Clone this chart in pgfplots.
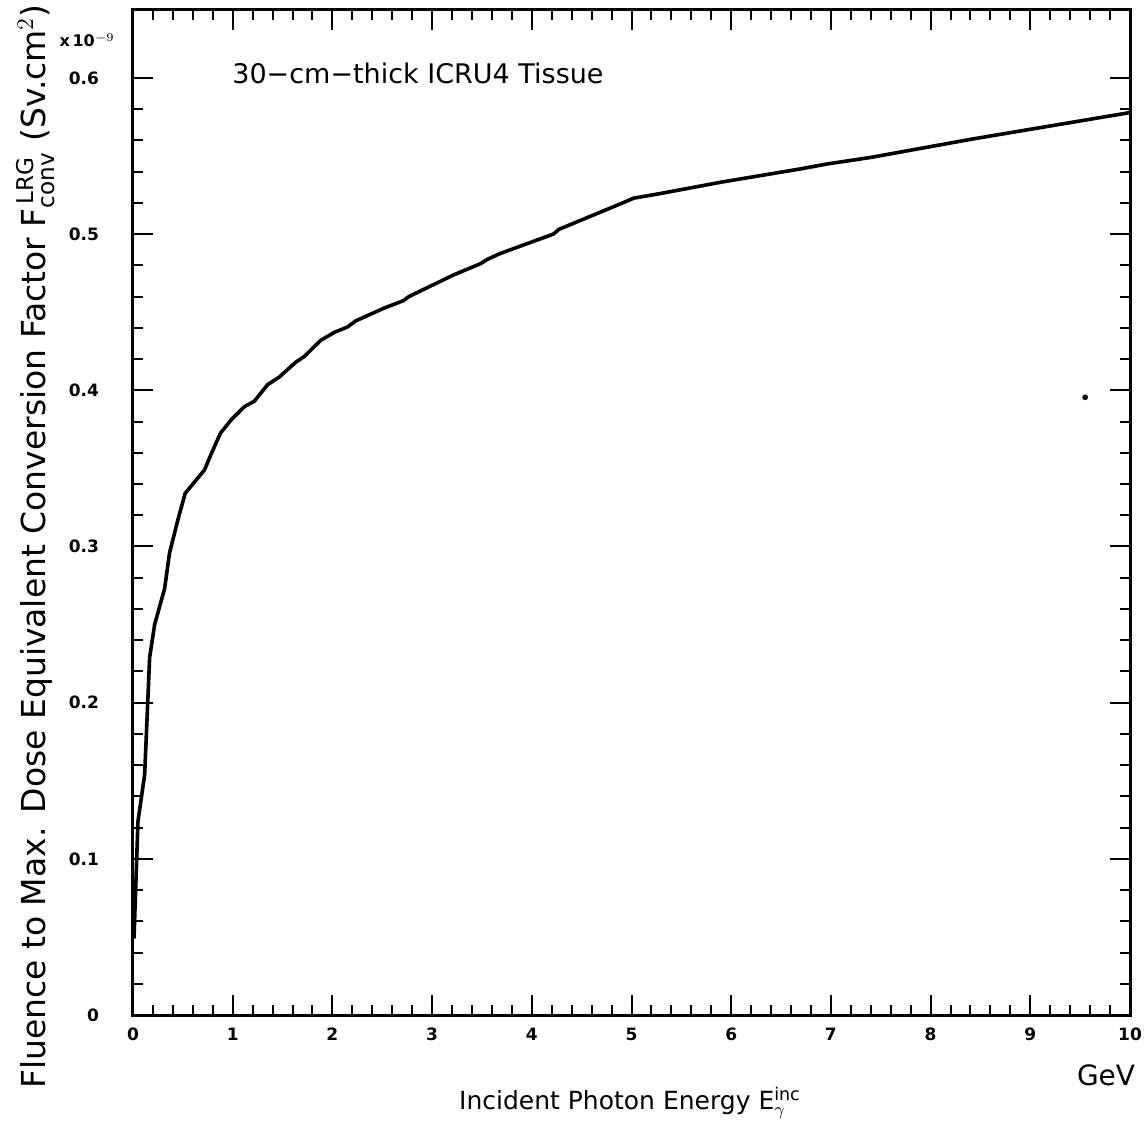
\documentclass[border=0pt]{standalone}
\usepackage{fontspec}
\usepackage{amsmath}
\setmainfont{DejaVu Sans}
\usepackage{pgfplots}
\pgfplotsset{compat=1.18}
\begin{document}
\begin{tikzpicture}
\useasboundingbox (-66.5pt,-53pt) rectangle (506pt,507.5pt);
\begin{axis}[
  at={(0,0)}, anchor=south west,
  scale only axis, width=498.5pt, height=502.5pt,
  xmin=0, xmax=10, ymin=0, ymax=0.6435,
  xtick={0,1,...,10}, ytick={0,0.1,0.2,0.3,0.4,0.5,0.6},
  yticklabels={0,0.1,0.2,0.3,0.4,0.5,0.6},
  minor x tick num=4, minor y tick num=4,
  tick align=inside, major tick length=10pt, minor tick length=5pt,
  every tick/.style={black, line width=1pt},
  axis line style={line width=1.5pt},
  tick pos=both,
  /pgf/number format/assume math mode=true,
  ticklabel style={font=\fontsize{8.5}{9}\selectfont\bfseries},
  yticklabel style={xshift=-13.5pt},
  xticklabel style={yshift=-3pt},
  scaled y ticks=false,
  xlabel={Incident Photon Energy E$_{\gamma}^{\text{inc}}$},
  xlabel style={at={(axis description cs:0.4985,-0.0876)}, anchor=center, font=\fontsize{12.5}{14}\selectfont},
  ylabel={Fluence to Max. Dose Equivalent Conversion Factor F$_{\text{conv}}^{\,\text{LRG}}$ (Sv.cm$^{2}$)},
  ylabel style={at={(axis description cs:-0.098,0.466)}, anchor=center, font=\fontsize{16.5}{18}\selectfont},
  clip=false,
]
\addplot[black, line width=1.8pt, line join=round] coordinates {
(0.01,0.049) (0.05,0.124) (0.117,0.154) (0.167,0.229) (0.217,0.250)
(0.317,0.273) (0.367,0.296) (0.45,0.317) (0.523,0.334) (0.717,0.349)
(0.783,0.359) (0.877,0.3725) (0.983,0.381) (1.117,0.3895) (1.217,0.393)
(1.35,0.4036) (1.467,0.4085) (1.633,0.418) (1.717,0.4216) (1.883,0.432)
(2.017,0.437) (2.15,0.4405) (2.233,0.4444) (2.517,0.4526) (2.717,0.4575)
(2.767,0.460) (2.983,0.4667) (3.217,0.4739) (3.483,0.481) (3.55,0.4837)
(3.683,0.4876) (4.216,0.500) (4.27,0.503) (4.95,0.521) (5.02,0.523)
(5.29,0.526) (5.92,0.5335) (6.69,0.5417) (6.97,0.545) (7.39,0.549)
(8.43,0.561) (9.97,0.5775) (10,0.578)
};
\addplot[only marks, mark=*, mark size=1.2pt, black] coordinates {(9.55,0.3955)};
\node[anchor=west, inner sep=0pt, font=\fontsize{13.5}{15}\selectfont] at (axis description cs:0.0993,0.937) {30−cm−thick ICRU4 Tissue};
\node[anchor=center, font=\fontsize{14}{15}\selectfont] at (axis description cs:0.976,-0.06) {GeV};
\node[anchor=center, font=\fontsize{8}{9}\selectfont\bfseries] at (axis description cs:-0.046,0.970) {x\,10$^{-9}$};
\end{axis}
\end{tikzpicture}
\end{document}
